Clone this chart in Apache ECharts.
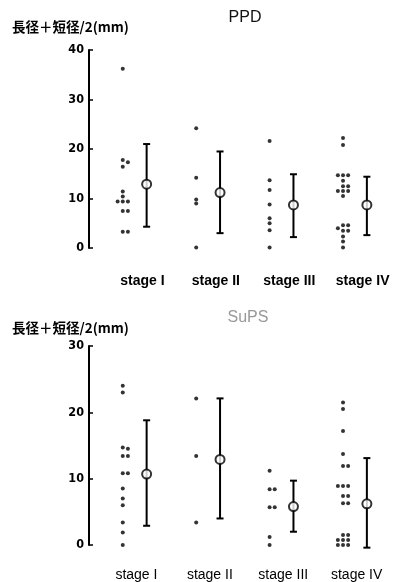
<!DOCTYPE html>
<html><head><meta charset="utf-8">
<script src="https://cdn.jsdelivr.net/npm/echarts@6/dist/echarts.min.js"></script>
<style>html,body{margin:0;padding:0;background:#fff}#c{width:394px;height:582px}</style>
</head><body><div id="c"></div>
<script>
// ---- data ----
var stageLabels = ['stage I', 'stage II', 'stage III', 'stage IV'];
var yTicksTop = [0, 10, 20, 30, 40];
var yTicksBottom = [0, 10, 20, 30];
var yAxisTitle = '長径＋短径/2(mm)';
var titleTop = 'PPD';
var titleBottom = 'SuPS';

// PPD individual values per stage
var ppdStage1 = [36.2, 17.8, 17.3, 16.4, 11.4, 10.4, 9.4, 9.4, 9.4, 7.5, 7.5, 3.3, 3.3];
var ppdStage2 = [24.2, 14.2, 9.8, 9.0, 0.1];
var ppdStage3 = [21.6, 13.7, 11.7, 8.8, 6.0, 5.0, 3.6, 0.1];
var ppdStage4 = [22.2, 20.8, 14.7, 14.7, 14.7, 13.6, 12.5, 12.5, 11.5, 11.5, 11.5, 10.5, 4.6, 4.6, 4.0, 3.5, 3.5, 2.3, 1.3, 0.1];
var ppdMean = [12.9, 11.2, 8.7, 8.7];
var ppdLow  = [4.3, 3.0, 2.2, 2.6];
var ppdHigh = [21.0, 19.5, 14.9, 14.4];

// SuPS individual values per stage
var supsStage1 = [24.0, 23.0, 14.7, 14.5, 13.4, 13.4, 10.8, 10.8, 8.5, 7.0, 6.0, 3.4, 1.9, 0];
var supsStage2 = [22.1, 13.4, 3.4];
var supsStage3 = [11.2, 8.4, 8.4, 5.7, 5.7, 1.2, 0];
var supsStage4 = [21.5, 20.5, 17.2, 13.7, 11.9, 11.9, 8.9, 8.9, 8.9, 7.4, 7.4, 6.3, 6.3, 1.5, 1.5, 0.75, 0.75, 0.75, 0, 0, 0];
var supsMean = [10.7, 12.9, 5.8, 6.2];
var supsLow  = [2.9, 4.0, 2.0, -0.4];
var supsHigh = [18.8, 22.1, 9.7, 13.1];

// ---- layout helpers ----
var DOT_OFFSET = -0.22, MEAN_OFFSET = 0.105, STEP = 0.07;
function swarm(stages, minGap) {
  var out = [];
  stages.forEach(function (vals, si) {
    var placed = [];
    vals.forEach(function (v) {
      var order = [0, 1, -1, 2, -2, 3, -3];
      for (var k = 0; k < order.length; k++) {
        var s = order[k];
        var clash = placed.some(function (p) { return p.slot === s && Math.abs(p.v - v) < minGap; });
        if (!clash) { placed.push({slot: s, v: v}); out.push([si + 1 + DOT_OFFSET + s * STEP, v]); break; }
      }
    });
  });
  return out;
}
function meanData(m) { return m.map(function (v, i) { return [i + 1 + MEAN_OFFSET, v]; }); }
function errData(m, lo, hi) { return m.map(function (v, i) { return [i + 1 + MEAN_OFFSET, v, lo[i], hi[i]]; }); }

function renderErr(params, api) {
  var x = api.value(0);
  var pLo = api.coord([x, api.value(2)]);
  var pHi = api.coord([x, api.value(3)]);
  var w = 3.5;
  var st = {stroke: '#000', lineWidth: 2};
  return {type: 'group', children: [
    {type: 'line', shape: {x1: pLo[0], y1: pLo[1], x2: pHi[0], y2: pHi[1]}, style: st},
    {type: 'line', shape: {x1: pLo[0] - w, y1: pLo[1], x2: pLo[0] + w, y2: pLo[1]}, style: st},
    {type: 'line', shape: {x1: pHi[0] - w, y1: pHi[1], x2: pHi[0] + w, y2: pHi[1]}, style: st}
  ]};
}

var chart = echarts.init(document.getElementById('c'), null, {renderer: 'canvas'});

function xAxisCfg(gi, bold, margin, pad) {
  return {
    type: 'value', gridIndex: gi, min: 0.32, max: 4.42,
    axisLine: {show: false}, axisTick: {show: false}, splitLine: {show: false},
    axisLabel: {
      customValues: [1, 2, 3, 4],
      formatter: function (v) { var i = Math.round(v) - 1; return Math.abs(v - Math.round(v)) < 1e-6 && stageLabels[i] ? stageLabels[i] : ''; },
      color: '#000', fontSize: 14, fontWeight: bold ? 'bold' : 'normal',
      fontFamily: 'Liberation Sans', margin: margin, padding: pad
    }
  };
}
function yAxisCfg(gi, max) {
  return {
    type: 'value', gridIndex: gi, min: 0, max: max, interval: 10,
    splitLine: {show: false},
    axisLine: {show: true, lineStyle: {color: '#000', width: 2}},
    axisTick: {show: true, inside: true, length: 4, lineStyle: {color: '#000', width: 1.5}},
    axisLabel: {color: '#000', fontSize: 12.5, fontWeight: 'bold', fontFamily: 'DejaVu Sans Condensed', margin: 5}
  };
}

var option = {
  animation: false,
  backgroundColor: '#fff',
  grid: [
    {left: 89, right: 4, top: 50, height: 198},
    {left: 89, right: 4, top: 346, height: 199}
  ],
  xAxis: [xAxisCfg(0, true, 26, [0, 0, 0, 7]), xAxisCfg(1, false, 23, [0, 5, 0, 0])],
  yAxis: [yAxisCfg(0, 40), yAxisCfg(1, 30)],
  graphic: [
    {type: 'text', left: 12, top: 20, style: {text: yAxisTitle, font: 'bold 13.5px "Noto Sans CJK JP"', fill: '#000'}},
    {type: 'text', left: 12, top: 321, style: {text: yAxisTitle, font: 'bold 13.5px "Noto Sans CJK JP"', fill: '#000'}},
    {type: 'text', x: 245, y: 18, style: {text: titleTop, font: '16px "Liberation Sans"', fill: '#111', textAlign: 'center', textVerticalAlign: 'middle'}},
    {type: 'text', x: 248, y: 318, style: {text: titleBottom, font: '16px "Liberation Sans"', fill: '#999', textAlign: 'center', textVerticalAlign: 'middle'}}
  ],
  series: [
    {type: 'scatter', xAxisIndex: 0, yAxisIndex: 0, clip: false, symbolSize: 4, itemStyle: {color: '#000'},
     data: swarm([ppdStage1, ppdStage2, ppdStage3, ppdStage4], 0.75)},
    {type: 'custom', xAxisIndex: 0, yAxisIndex: 0, renderItem: renderErr, data: errData(ppdMean, ppdLow, ppdHigh), z: 2},
    {type: 'scatter', xAxisIndex: 0, yAxisIndex: 0, clip: false, symbolSize: 9, z: 3,
     itemStyle: {color: '#fff', borderColor: '#000', borderWidth: 2}, data: meanData(ppdMean)},
    {type: 'scatter', xAxisIndex: 1, yAxisIndex: 1, clip: false, symbolSize: 4, itemStyle: {color: '#000'},
     data: swarm([supsStage1, supsStage2, supsStage3, supsStage4], 0.55)},
    {type: 'custom', xAxisIndex: 1, yAxisIndex: 1, renderItem: renderErr, data: errData(supsMean, supsLow, supsHigh), z: 2},
    {type: 'scatter', xAxisIndex: 1, yAxisIndex: 1, clip: false, symbolSize: 9, z: 3,
     itemStyle: {color: '#fff', borderColor: '#000', borderWidth: 2}, data: meanData(supsMean)}
  ]
};
chart.setOption(option);
</script>
</body></html>
